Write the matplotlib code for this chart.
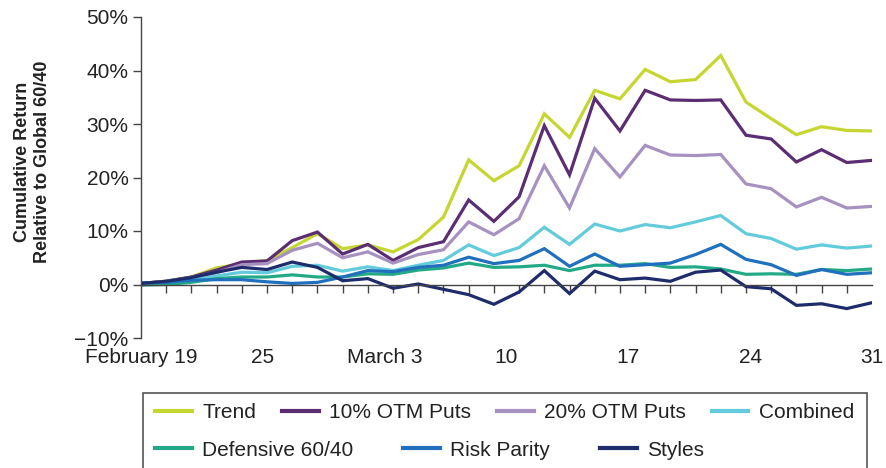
import matplotlib.pyplot as plt
import matplotlib.patches as mpatches
import numpy as np

plt.rcParams['font.family'] = ['Liberation Sans', 'DejaVu Sans']

# Daily points, Feb 19 to Mar 31 (30 trading days), cumulative return in %
trend = [0.2, 0.6, 1.4, 3.1, 3.9, 4.5, 6.9, 9.5, 6.7, 7.4,
         6.1, 8.4, 12.6, 23.3, 19.4, 22.2, 31.9, 27.5, 36.3, 34.7,
         40.2, 37.9, 38.3, 42.8, 34.1, 31.0, 28.0, 29.5, 28.8, 28.7]
otm10 = [0.2, 0.6, 1.4, 2.7, 4.2, 4.4, 8.2, 9.8, 5.7, 7.5,
         4.5, 6.9, 8.0, 15.8, 11.8, 16.4, 29.7, 20.5, 34.8, 28.7,
         36.3, 34.5, 34.4, 34.5, 27.9, 27.2, 22.9, 25.2, 22.8, 23.2]
otm20 = [0.2, 0.6, 1.3, 2.2, 3.7, 3.9, 6.4, 7.7, 5.0, 6.1,
         4.0, 5.6, 6.5, 11.7, 9.3, 12.3, 22.2, 14.3, 25.4, 20.1,
         26.0, 24.2, 24.1, 24.3, 18.8, 17.9, 14.5, 16.3, 14.3, 14.6]
combined = [0.1, 0.4, 0.9, 1.6, 2.3, 2.2, 3.4, 3.6, 2.5, 3.3,
            2.6, 3.6, 4.5, 7.4, 5.4, 6.9, 10.7, 7.5, 11.3, 10.0,
            11.2, 10.6, 11.7, 12.9, 9.5, 8.6, 6.6, 7.4, 6.8, 7.2]
defensive = [-0.1, 0.0, 0.4, 1.1, 1.4, 1.4, 1.8, 1.4, 1.4, 2.0,
             1.9, 2.7, 3.1, 4.0, 3.2, 3.3, 3.6, 2.6, 3.6, 3.6,
             3.9, 3.2, 3.3, 2.9, 1.9, 2.0, 1.9, 2.8, 2.6, 2.9]
risk_parity = [0.3, 0.4, 0.8, 0.9, 0.9, 0.5, 0.2, 0.4, 1.4, 2.6,
               2.4, 3.2, 3.6, 5.1, 3.9, 4.5, 6.7, 3.4, 5.7, 3.4,
               3.7, 4.0, 5.6, 7.5, 4.7, 3.7, 1.7, 2.8, 1.9, 2.2]
styles = [0.2, 0.6, 1.3, 2.3, 3.2, 2.8, 4.2, 3.2, 0.7, 1.1,
          -0.7, 0.1, -0.9, -1.9, -3.7, -1.4, 2.6, -1.7, 2.5, 0.9,
          1.2, 0.6, 2.3, 2.7, -0.4, -0.8, -3.9, -3.6, -4.5, -3.4]

series_names = ['Trend', '10% OTM Puts', '20% OTM Puts', 'Combined',
                'Defensive 60/40', 'Risk Parity', 'Styles']
series_colors = ['#c5d630', '#5b2d73', '#a791c0', '#62cbdc',
                 '#22aa86', '#2070bd', '#1f2c6c']
date_labels = ['February 19', '25', 'March 3', '10', '17', '24', '31']
y_ticks = [-10, 0, 10, 20, 30, 40, 50]

all_series = [trend, otm10, otm20, combined, defensive, risk_parity, styles]
x = np.arange(len(trend))

fig = plt.figure(figsize=(8.87, 4.68), dpi=100)
ax = fig.add_axes([141 / 887, 1 - 338 / 468, (872 - 141) / 887, (338 - 17) / 468])

lines = []
for vals, name, col in zip(all_series, series_names, series_colors):
    ln, = ax.plot(x, vals, color=col, lw=2.3, label=name, solid_joinstyle='miter')
    lines.append(ln)

ax.set_xlim(0, len(trend) - 1)
ax.set_ylim(-10, 50)
ax.set_yticks(y_ticks)
ax.set_yticklabels(['\u221210%' if v < 0 else f'{v}%' for v in y_ticks])

# axis line sits at zero, labels stay at the bottom
for s in ['top', 'right']:
    ax.spines[s].set_visible(False)
ax.spines['bottom'].set_position(('data', 0))
for s in ['left', 'bottom']:
    ax.spines[s].set_color('#444444')
    ax.spines[s].set_linewidth(1.0)

ax.set_xticks(x, minor=True)
ax.set_xticks(np.linspace(0, len(trend) - 1, len(date_labels)))
ax.set_xticklabels(date_labels)
ax.tick_params(axis='x', which='minor', direction='out', length=6, width=1, color='#444444')
ax.tick_params(axis='x', which='major', length=0, pad=46, labelsize=15, labelcolor='#222222')
ax.tick_params(axis='y', direction='out', length=6, width=1, color='#444444',
               labelsize=15, labelcolor='#222222', pad=3)

fig.text(0.037, 0.655, 'Cumulative Return\nRelative to Global 60/40', rotation=90,
         ha='center', va='center', fontsize=13, fontweight='bold',
         color='#222222', linespacing=1.25)

# legend: two flowing rows inside one box
leg_kw = dict(frameon=False, fontsize=15, handlelength=1.75, handletextpad=0.5,
              borderaxespad=0, labelcolor='#222222')
leg1 = fig.legend(lines[:4], series_names[:4], loc='center left', ncol=4,
                  bbox_to_anchor=(147 / 887, 1 - 413 / 468), columnspacing=1.25, **leg_kw)
leg2 = fig.legend(lines[4:], series_names[4:], loc='center left', ncol=3,
                  bbox_to_anchor=(147 / 887, 1 - 450 / 468), columnspacing=2.4, **leg_kw)
for leg in (leg1, leg2):
    for h in leg.get_lines():
        h.set_linewidth(3)

box = mpatches.Rectangle((143 / 887, -0.05), (867 - 143) / 887, 0.05 + (468 - 393) / 468,
                         transform=fig.transFigure, fill=False, edgecolor='#555555', lw=1.2)
fig.patches.append(box)

fig.savefig('out.png', dpi=100)
